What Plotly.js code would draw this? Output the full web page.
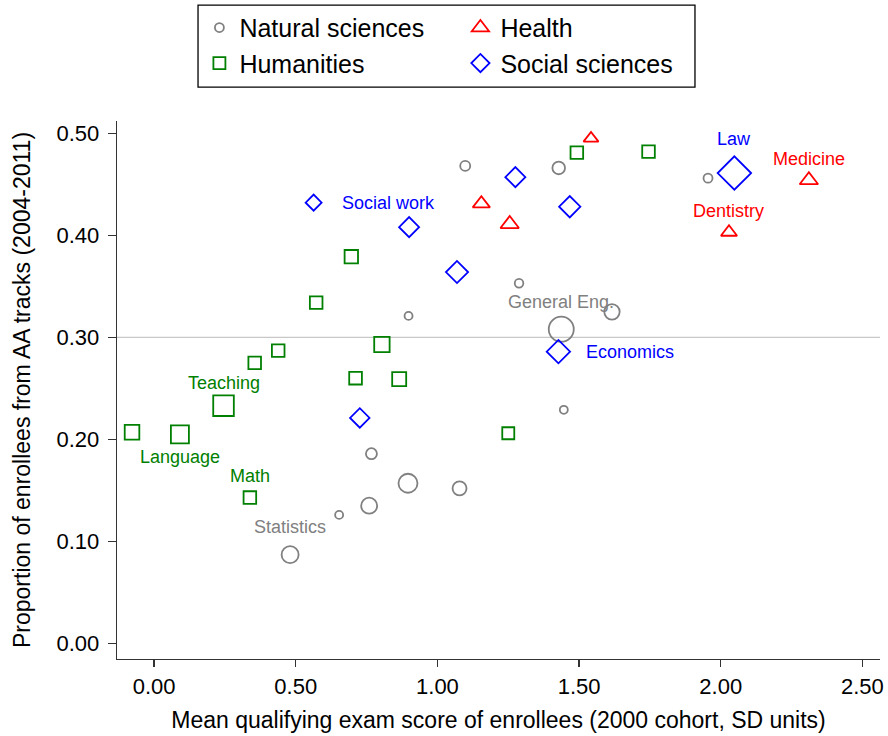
<!DOCTYPE html>
<html>
<head>
<meta charset="utf-8">
<script src="https://cdn.plot.ly/plotly-3.0.1.min.js"></script>
<style>
html, body { margin: 0; padding: 0; background: #ffffff; }
#chart { width: 888px; height: 736px; }
</style>
</head>
<body>
<div id="chart"></div>
<script>
// ---------------- DATA ----------------
// Natural sciences
const natX = [1.098, 1.428, 1.955, 1.288, 0.898, 1.616, 1.437, 1.446, 0.767, 0.896, 1.078, 0.759, 0.653, 0.480];
const natY = [0.468, 0.466, 0.456, 0.353, 0.321, 0.325, 0.308, 0.229, 0.186, 0.157, 0.152, 0.135, 0.126, 0.087];
const natWeight = [10, 12.6, 9, 8.6, 8, 15.4, 25, 8, 11, 19, 14, 16, 8, 17];
const natLabel = ['', '', '', '', '', '', 'General Eng.', '', '', '', '', '', '', 'Statistics'];

// Humanities
const humX = [0.696, 0.572, 0.804, 0.438, 0.355, 0.711, 0.865, 0.245, -0.078, 0.091, 0.338, 1.250, 1.492, 1.745];
const humY = [0.379, 0.334, 0.293, 0.287, 0.275, 0.260, 0.259, 0.233, 0.207, 0.205, 0.143, 0.206, 0.481, 0.482];
const humWeight = [13.4, 12.6, 15.4, 12.6, 12.6, 12.7, 14, 20.6, 14.6, 18, 12.6, 12, 12.6, 12.6];
const humLabel = ['', '', '', '', '', '', '', 'Teaching', '', 'Language', 'Math', '', '', ''];

// Health
const heaX = [1.542, 1.155, 1.255, 2.311, 2.029];
const heaY = [0.495, 0.431, 0.411, 0.454, 0.403];
const heaWeight = [13, 15, 16, 16, 14];
const heaLabel = ['', '', '', 'Medicine', 'Dentistry'];

// Social sciences
const socX = [0.563, 0.900, 1.069, 1.275, 1.467, 2.048, 1.427, 0.726];
const socY = [0.432, 0.408, 0.364, 0.457, 0.428, 0.461, 0.286, 0.221];
const socWeight = [12.3, 15.4, 17, 15.4, 16.4, 25.7, 18, 15];
const socLabel = ['Social work', '', '', '', '', 'Law', 'Economics', ''];

const seriesNames = ['Natural sciences', 'Health', 'Humanities', 'Social sciences'];
const xTicks = [0, 0.5, 1.0, 1.5, 2.0, 2.5];
const yTicks = [0, 0.1, 0.2, 0.3, 0.4, 0.5];
const refLineY = 0.30;

// ---------------- STYLE ----------------
const FONT = '"Liberation Sans", Arial, sans-serif';
const styles = {
  'Natural sciences': { symbol: 'circle-open', color: '#808080', legendSize: 9 },
  'Health': { symbol: 'triangle-up-open', color: '#ff0000', legendSize: 15 },
  'Humanities': { symbol: 'square-open', color: '#008000', legendSize: 12 },
  'Social sciences': { symbol: 'diamond-open', color: '#0000ff', legendSize: 14 }
};
const labelStyle = {
  'General Eng.': { dx: 0, dy: 27, anchor: 'center' },
  'Statistics': { dx: 0, dy: 28, anchor: 'center' },
  'Teaching': { dx: 0, dy: 23, anchor: 'center' },
  'Language': { dx: 0, dy: -23, anchor: 'center' },
  'Math': { dx: 0, dy: 22, anchor: 'center' },
  'Law': { dx: 0, dy: 34, anchor: 'center' },
  'Medicine': { dx: 0, dy: 21, anchor: 'center' },
  'Dentistry': { dx: 0, dy: 21, anchor: 'center' },
  'Social work': { dx: 26, dy: 0, anchor: 'left' },
  'Economics': { dx: 26, dy: 0, anchor: 'left' }
};

const seriesData = {
  'Natural sciences': { x: natX, y: natY, w: natWeight, l: natLabel },
  'Health': { x: heaX, y: heaY, w: heaWeight, l: heaLabel },
  'Humanities': { x: humX, y: humY, w: humWeight, l: humLabel },
  'Social sciences': { x: socX, y: socY, w: socWeight, l: socLabel }
};

const traces = [];
const annotations = [];
const drawOrder = ['Humanities', 'Natural sciences', 'Health', 'Social sciences'];
drawOrder.forEach(name => {
  const d = seriesData[name], s = styles[name];
  traces.push({
    type: 'scatter', mode: 'markers', name: name, showlegend: false,
    x: d.x, y: d.y,
    marker: { symbol: s.symbol, size: d.w, opacity: 1, color: s.color, line: { color: s.color, width: 1.8 } },
    hoverinfo: 'x+y'
  });
  d.l.forEach((lab, i) => {
    if (!lab) return;
    const ls = labelStyle[lab];
    annotations.push({
      x: d.x[i], y: d.y[i], xref: 'x', yref: 'y', text: lab, showarrow: false,
      xanchor: ls.anchor, yanchor: 'middle', xshift: ls.dx, yshift: ls.dy,
      font: { family: FONT, size: 18, color: s.color }
    });
  });
});
// legend-only entries
seriesNames.forEach(name => {
  const s = styles[name];
  traces.push({
    type: 'scatter', mode: 'markers', name: name, showlegend: true,
    x: [null], y: [null],
    marker: { symbol: s.symbol, size: s.legendSize, opacity: 1, color: s.color, line: { color: s.color, width: 1.8 } }
  });
});

const layout = {
  width: 888, height: 736,
  margin: { l: 117, r: 8, t: 121, b: 76.5, pad: 0 },
  paper_bgcolor: '#ffffff', plot_bgcolor: '#ffffff',
  font: { family: FONT, color: '#000000' },
  showlegend: true,
  legend: {
    orientation: 'h', x: 0.108, xanchor: 'left',
    yref: 'container', y: 0.9935, yanchor: 'top',
    entrywidth: 216, entrywidthmode: 'pixels',
    font: { family: FONT, size: 25, color: '#000000' },
    borderwidth: 0, bgcolor: 'rgba(0,0,0,0)', itemsizing: 'trace', traceorder: 'normal'
  },
  xaxis: {
    range: [-0.131, 2.562],
    tickvals: xTicks, tickformat: '.2f',
    showgrid: false, zeroline: false,
    showline: true, linecolor: '#333333', linewidth: 1.3,
    ticks: 'outside', ticklen: 7, tickwidth: 1.3, tickcolor: '#333333',
    tickfont: { family: FONT, size: 22, color: '#000000' },
    title: { text: 'Mean qualifying exam score of enrollees (2000 cohort, SD units)', font: { family: FONT, size: 23, color: '#000000' }, standoff: 14 },
    automargin: false, fixedrange: true
  },
  yaxis: {
    range: [-0.0152, 0.512],
    tickvals: yTicks, tickformat: '.2f',
    showgrid: false, zeroline: false,
    showline: true, linecolor: '#333333', linewidth: 1.3,
    ticks: 'outside', ticklen: 8, tickwidth: 1.3, tickcolor: '#333333',
    ticklabelstandoff: 4,
    tickfont: { family: FONT, size: 22, color: '#000000' },
    title: { text: 'Proportion of enrollees from AA tracks (2004-2011)', font: { family: FONT, size: 23, color: '#000000' }, standoff: 19 },
    automargin: false, fixedrange: true
  },
  shapes: [
    { type: 'line', xref: 'paper', x0: 0, x1: 1, yref: 'y', y0: refLineY, y1: refLineY,
      line: { color: '#c8c8c8', width: 1.2 }, layer: 'below' },
    { type: 'rect', xref: 'paper', x0: 0.1062, x1: 0.7575, yref: 'paper', y0: 1.0631, y1: 1.2154,
      line: { color: '#000000', width: 1.3 }, fillcolor: 'rgba(0,0,0,0)' }
  ],
  annotations: annotations
};

Plotly.newPlot('chart', traces, layout, { displayModeBar: false, staticPlot: true });
</script>
</body>
</html>
